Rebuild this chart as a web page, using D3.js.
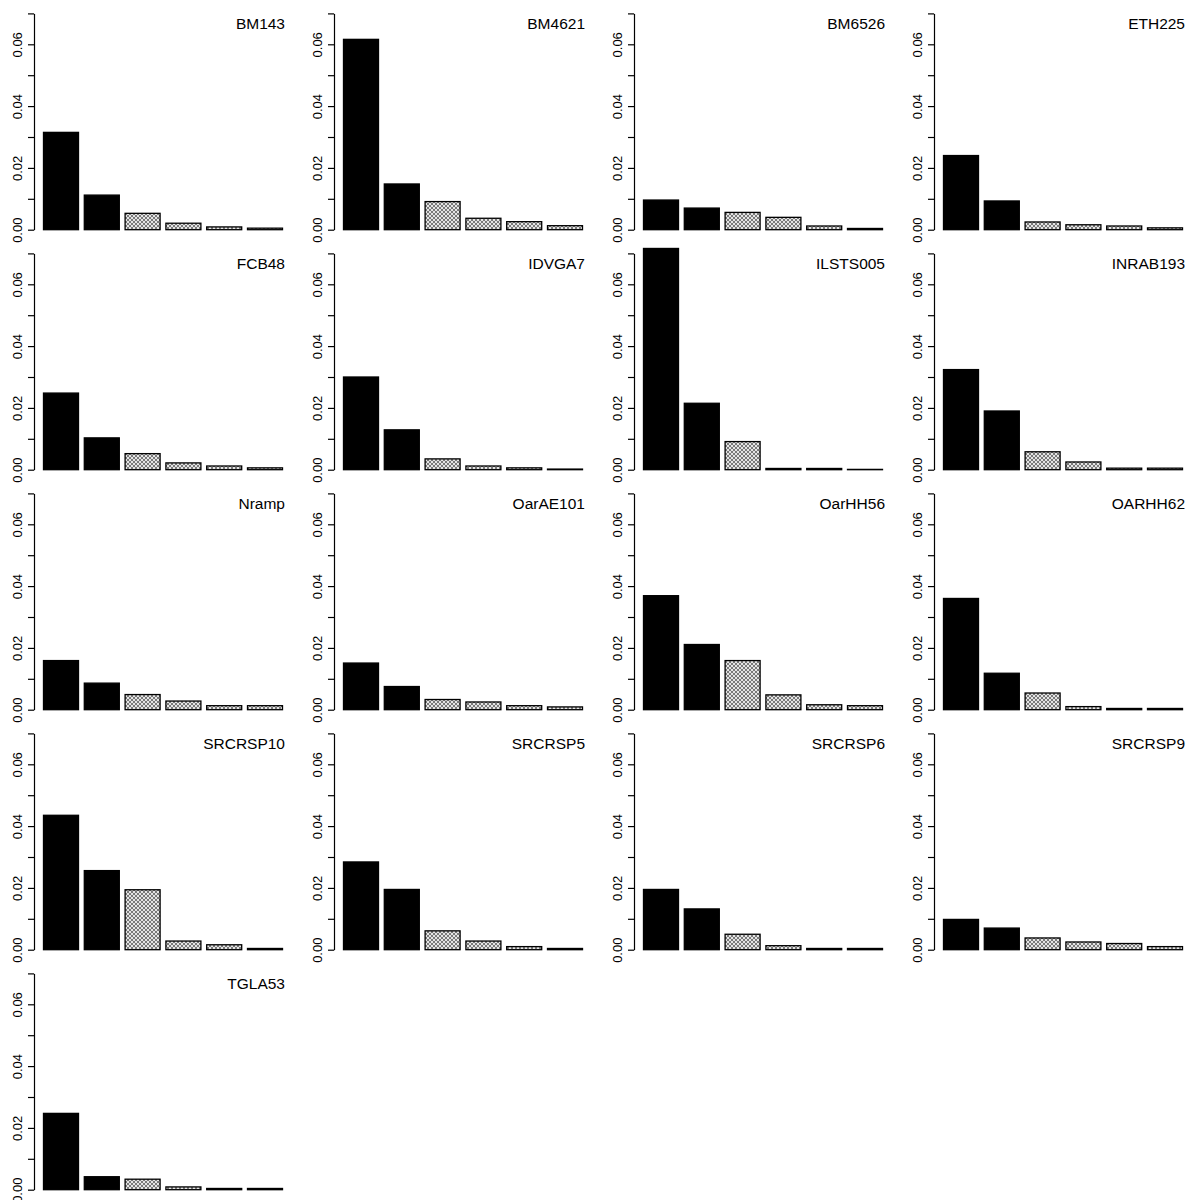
<!DOCTYPE html>
<html>
<head>
<meta charset="utf-8">
<script src="https://cdn.jsdelivr.net/npm/d3@7"></script>
<style>
  html, body { margin: 0; padding: 0; background: #fff; }
  svg { display: block; }
  text { font-family: "Liberation Sans", Arial, sans-serif; fill: #000; }
</style>
</head>
<body>
<svg id="chart" width="1200" height="1200"></svg>
<script>
// ---- data ----
const markers = ["BM143","BM4621","BM6526","ETH225","FCB48","IDVGA7","ILSTS005","INRAB193",
                 "Nramp","OarAE101","OarHH56","OARHH62","SRCRSP10","SRCRSP5","SRCRSP6","SRCRSP9","TGLA53"];
const alleleRanks = [1, 2, 3, 4, 5, 6];
const fillTypes = ["solid", "solid", "hatch", "hatch", "hatch", "hatch"];

const freqBM143    = [0.0315, 0.0112, 0.0053, 0.0021, 0.0009, 0.0005];
const freqBM4621   = [0.0616, 0.0148, 0.0091, 0.0037, 0.0026, 0.0013];
const freqBM6526   = [0.0096, 0.0070, 0.0056, 0.0040, 0.0012, 0.0004];
const freqETH225   = [0.0240, 0.0093, 0.0025, 0.0016, 0.0012, 0.0006];
const freqFCB48    = [0.0248, 0.0103, 0.0052, 0.0022, 0.0012, 0.0006];
const freqIDVGA7   = [0.0300, 0.0129, 0.0035, 0.0012, 0.0006, 0.0002];
const freqILSTS005 = [0.0716, 0.0215, 0.0091, 0.0004, 0.0004, 0.0001];
const freqINRAB193 = [0.0324, 0.0190, 0.0058, 0.0025, 0.0005, 0.0005];
const freqNramp    = [0.0159, 0.0086, 0.0049, 0.0028, 0.0013, 0.0013];
const freqOarAE101 = [0.0151, 0.0075, 0.0033, 0.0025, 0.0013, 0.0009];
const freqOarHH56  = [0.0369, 0.0211, 0.0159, 0.0048, 0.0016, 0.0013];
const freqOARHH62  = [0.0360, 0.0118, 0.0054, 0.0010, 0.0004, 0.0004];
const freqSRCRSP10 = [0.0435, 0.0256, 0.0194, 0.0028, 0.0016, 0.0004];
const freqSRCRSP5  = [0.0284, 0.0195, 0.0061, 0.0028, 0.0010, 0.0004];
const freqSRCRSP6  = [0.0195, 0.0132, 0.0050, 0.0013, 0.0004, 0.0004];
const freqSRCRSP9  = [0.0098, 0.0070, 0.0038, 0.0025, 0.0020, 0.0010];
const freqTGLA53   = [0.0247, 0.0042, 0.0034, 0.0009, 0.0004, 0.0004];

const yTicks = [0, 0.01, 0.02, 0.03, 0.04, 0.05, 0.06, 0.07];
const yTickLabels = ["0.00", "", "0.02", "", "0.04", "", "0.06", ""];

const frequencies = [freqBM143, freqBM4621, freqBM6526, freqETH225, freqFCB48, freqIDVGA7,
  freqILSTS005, freqINRAB193, freqNramp, freqOarAE101, freqOarHH56, freqOARHH62,
  freqSRCRSP10, freqSRCRSP5, freqSRCRSP6, freqSRCRSP9, freqTGLA53];

// ---- layout ----
const nCols = 4, panelW = 300, panelH = 240;
const svg = d3.select("#chart");

const defs = svg.append("defs");
const pat = defs.append("pattern")
  .attr("id", "hatch").attr("patternUnits", "userSpaceOnUse")
  .attr("width", 4).attr("height", 4);
pat.append("rect").attr("width", 4).attr("height", 4).attr("fill", "#e4e4e4");
pat.append("path").attr("d", "M0,0 L4,4 M4,0 L0,4 M-1,1 L1,-1 M3,5 L5,3")
  .attr("stroke", "#7a7a7a").attr("stroke-width", 1);

const x = d3.scaleBand().domain(alleleRanks).range([40.6, 285.4])
  .paddingInner(0.142).paddingOuter(0.071);
const y = d3.scaleLinear().domain([0, 0.07]).range([229.7, 13.4]);

markers.forEach((name, i) => {
  const col = i % nCols, row = Math.floor(i / nCols);
  const g = svg.append("g").attr("transform", `translate(${col * panelW},${row * panelH})`);
  const vals = frequencies[i];

  g.selectAll("rect.bar").data(vals).join("rect")
    .attr("class", "bar")
    .attr("x", (d, j) => x(alleleRanks[j]))
    .attr("width", x.bandwidth())
    .attr("y", d => y(d))
    .attr("height", d => y(0) - y(d))
    .attr("fill", (d, j) => fillTypes[j] === "solid" ? "#000" : "url(#hatch)")
    .attr("stroke", "#000")
    .attr("stroke-width", 1.3);

  const axis = d3.axisLeft(y).tickValues(yTicks)
    .tickFormat((d, k) => yTickLabels[k]).tickSize(6).tickSizeOuter(0);
  const ag = g.append("g").attr("transform", "translate(34,0)").call(axis);
  ag.select(".domain").attr("stroke", "#000").attr("stroke-width", 1.2);
  ag.selectAll(".tick line").attr("stroke", "#000").attr("stroke-width", 1.2);
  ag.selectAll(".tick text")
    .attr("transform", "rotate(-90)")
    .attr("x", 0).attr("y", -12).attr("dy", null)
    .attr("text-anchor", "middle")
    .style("font-family", '"Liberation Sans", Arial, sans-serif')
    .style("font-size", "13px").attr("fill", "#000");

  g.append("text")
    .attr("x", 285).attr("y", 28.5)
    .attr("text-anchor", "end")
    .style("font-size", "15.5px")
    .text(name);
});
</script>
</body>
</html>
